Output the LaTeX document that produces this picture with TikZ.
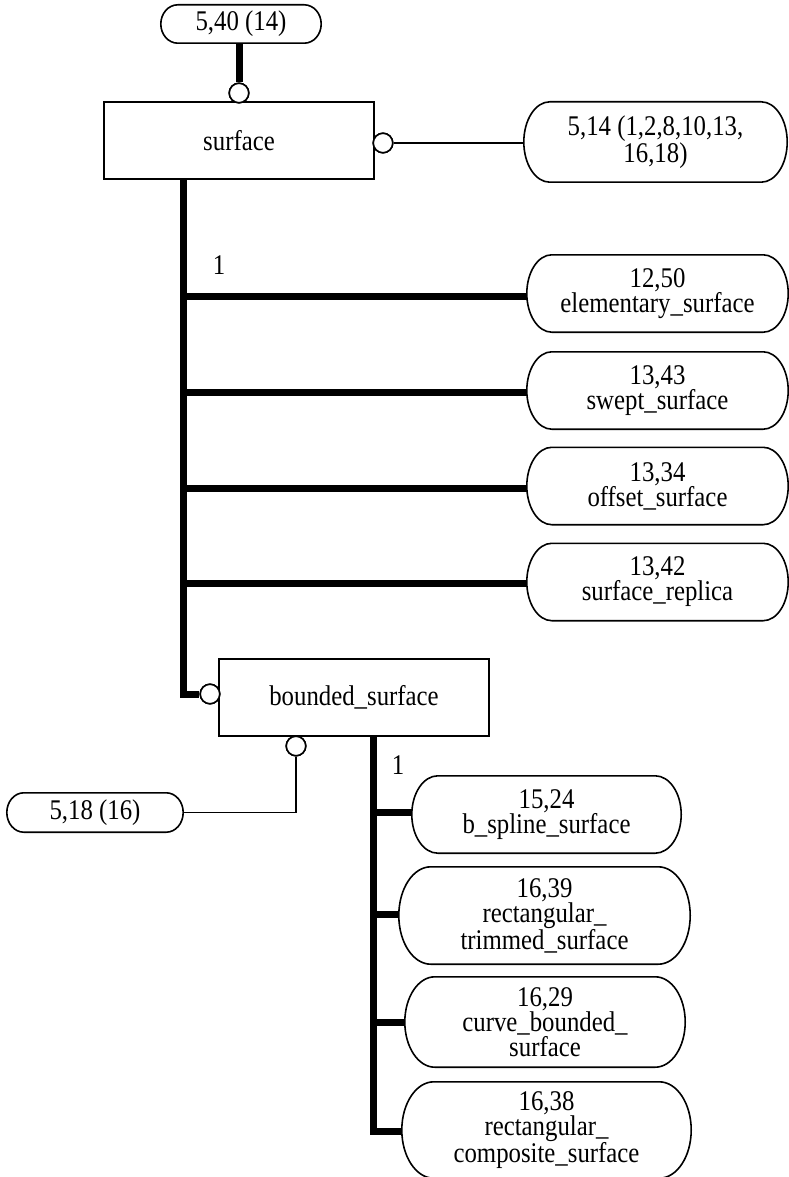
\documentclass[tikz,border=0pt]{standalone}
\usepackage{fontspec}
\setmainfont[FakeStretch=0.87]{Liberation Serif}
\usetikzlibrary{calc}
\newcommand\stadium[2]{%
  \draw[outline] let \p1=(#1.north west), \p2=(#1.south east), \n1={(\y1-\y2)/2} in
    (\x1+#2pt,\y1) -- (\x2-#2pt,\y1)
    arc[start angle=90, end angle=-90, x radius=#2pt, y radius=\n1]
    -- (\x1+#2pt,\y2)
    arc[start angle=270, end angle=90, x radius=#2pt, y radius=\n1] -- cycle;}
\begin{document}
\begin{tikzpicture}[x=1pt,y=-1pt,
  every node/.style={font=\fontsize{28.5}{25}\selectfont, inner sep=0pt, align=center},
  rbox/.style={draw, line width=1.6pt, minimum width=270pt, minimum height=77pt},
  ring/.style={circle, draw, fill=white, line width=1.6pt, minimum size=19.5pt},
  heavy/.style={line width=7pt},
  light/.style={line width=1.6pt},
  outline/.style={line width=1.6pt}]
\useasboundingbox (0,0) rectangle (789,1177);

% entity boxes
\node[rbox] (surface) at (239,140.5) {surface};
\node[rbox] (bounded) at (354,697.5) {bounded\_surface};

% stadium (page reference) nodes
\node[minimum width=160pt, minimum height=38pt] (n540) at (241,24) {5,40 (14)};
\node[minimum width=263pt, minimum height=80pt] (n514) at (655.5,142) {5,14 (1,2,8,10,13,\\16,18)};
\node[minimum width=261pt, minimum height=77pt] (e1) at (657.5,293.5) {12,50\\elementary\_surface};
\node[minimum width=261pt, minimum height=77pt] (e2) at (657.5,390.5) {13,43\\swept\_surface};
\node[minimum width=261pt, minimum height=77pt] (e3) at (657.5,486) {13,34\\offset\_surface};
\node[minimum width=261pt, minimum height=77pt] (e4) at (657.5,582) {13,42\\surface\_replica};
\node[minimum width=176pt, minimum height=39pt] (n518) at (95,812.5) {5,18 (16)};
\node[minimum width=269pt, minimum height=77pt] (b1) at (546.5,814.5) {15,24\\b\_spline\_surface};
\node[minimum width=291pt, minimum height=97pt] (b2) at (544.5,915.5) {16,39\\rectangular\_\\trimmed\_surface};
\node[minimum width=280pt, minimum height=90pt] (b3) at (545,1022) {16,29\\curve\_bounded\_\\surface};
\node[minimum width=289pt, minimum height=96pt] (b4) at (546.5,1130) {16,38\\rectangular\_\\composite\_surface};

\stadium{n540}{17}
\stadium{n514}{26}
\stadium{e1}{25}
\stadium{e2}{25}
\stadium{e3}{25}
\stadium{e4}{25}
\stadium{n518}{17}
\stadium{b1}{26}
\stadium{b2}{32}
\stadium{b3}{30}
\stadium{b4}{32}

% cardinality labels
\node (one1) at (219,265) {1};
\node (one2) at (398,765) {1};

% circles
\node[ring] (c1) at (239,93) {};
\node[ring] (c2) at (383,143) {};
\node[ring] (c3) at (210,694) {};
\node[ring] (c4) at (296,746) {};

% trunk coordinates
\coordinate (t1) at (183,179);
\coordinate (t2) at (373,736);

% connectors
\draw[heavy] (c1.north) -- (c1.north |- n540.south);
\draw[light] (c2.east) -- (c2.east -| n514.west);
\draw[heavy] (t1) |- (c3.west);
\foreach \e/\yy in {e1/296,e2/392,e3/488,e4/583}
  \draw[heavy] (183,\yy) -- (\e.west |- 0,\yy);
\draw[light] (c4.south) |- (n518.east);
\draw[heavy] (t2) -- (373,1134.5);
\foreach \b/\yy in {b1/812,b2/914,b3/1022,b4/1131}
  \draw[heavy] (t2 |- 0,\yy) -- (\b.west |- 0,\yy);

% redraw rings on top
\node[ring] at (c1) {};
\node[ring] at (c2) {};
\node[ring] at (c3) {};
\node[ring] at (c4) {};
\end{tikzpicture}
\end{document}
